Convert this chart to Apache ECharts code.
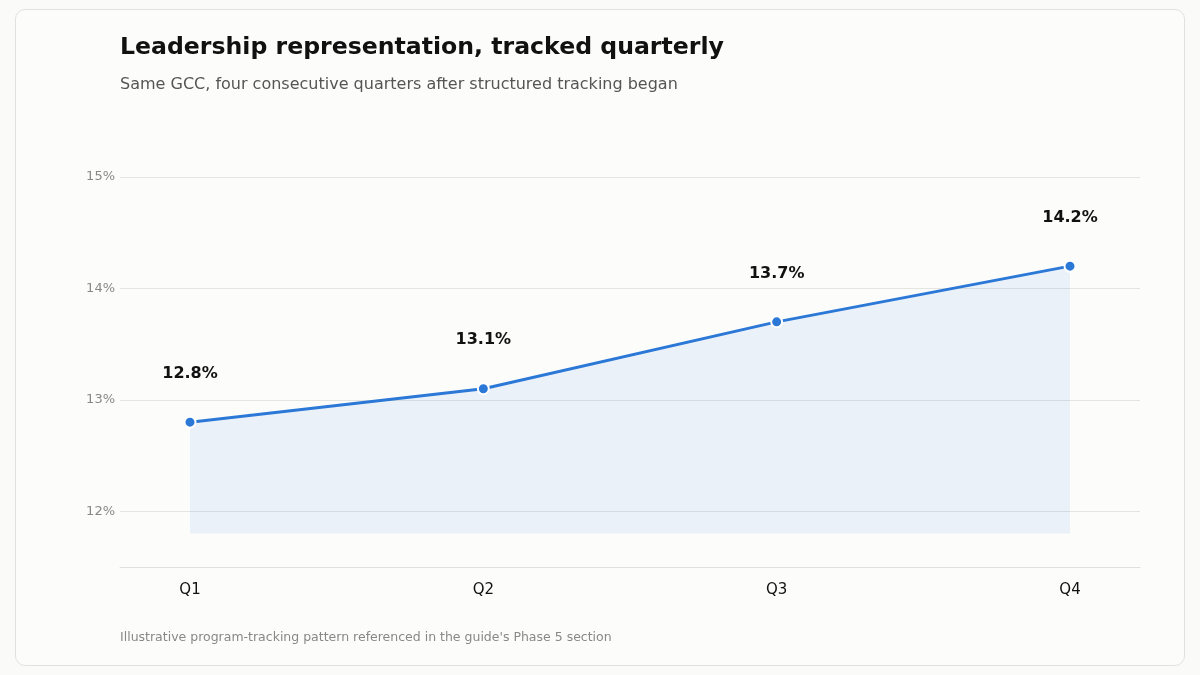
<!DOCTYPE html>
<html>
<head>
<meta charset="utf-8">
<script src="https://cdn.jsdelivr.net/npm/echarts@6/dist/echarts.min.js"></script>
<style>
  html, body { margin: 0; padding: 0; background: #fafaf8; }
  #card {
    position: absolute; left: 15px; top: 9px; width: 1168px; height: 655px;
    background: #fcfcfb; border: 1px solid #e2e2dd; border-radius: 10px;
  }
  #chart { position: absolute; left: 0; top: 0; width: 1200px; height: 675px; }
</style>
</head>
<body>
<div id="card"></div>
<div id="chart"></div>
<script>
// quarters and leadership share (%)
const quarters = ['Q1', 'Q2', 'Q3', 'Q4'];
const shareValues = [12.8, 13.1, 13.7, 14.2];
const areaBase = 11.8;

const FONT = '"DejaVu Sans", sans-serif';
const BLUE = '#2b78d7';

const mychart = echarts.init(document.getElementById('chart'));

const option = {
  animation: false,
  title: [
    {
      text: 'Leadership representation, tracked quarterly',
      left: 120, top: 35.5, padding: 0,
      textStyle: { fontFamily: FONT, fontSize: 23.6, fontWeight: 'bold', color: '#111' },
    },
    {
      text: 'Same GCC, four consecutive quarters after structured tracking began',
      left: 120, top: 76.5, padding: 0,
      textStyle: { fontFamily: FONT, fontSize: 16, fontWeight: 'normal', color: '#555' },
    },
    {
      text: "Illustrative program-tracking pattern referenced in the guide's Phase 5 section",
      left: 120, top: 631.5, padding: 0,
      textStyle: { fontFamily: FONT, fontSize: 12.5, fontWeight: 'normal', color: '#888' },
    },
  ],
  grid: [
    // gridlines + axis line span the full width
    { left: 120, right: 60, top: 177, bottom: 108 },
    // the line itself sits inset from both sides
    { left: 190, right: 130, top: 177, bottom: 108 },
  ],
  xAxis: [
    {
      gridIndex: 0,
      type: 'category',
      data: quarters,
      axisLine: { lineStyle: { color: '#e0e0dc' } },
      axisTick: { show: false },
      axisLabel: { show: false },
      splitLine: { show: false },
    },
    {
      gridIndex: 1,
      type: 'category',
      data: quarters,
      boundaryGap: false,
      axisLine: { show: false },
      axisTick: { show: false },
      axisLabel: { fontFamily: FONT, fontSize: 15, color: '#111', margin: 16 },
    },
  ],
  yAxis: [
    {
      gridIndex: 0,
      type: 'value',
      min: 11.5,
      max: 15,
      interval: 0.5,
      axisLine: { show: false },
      axisTick: { show: false },
      axisLabel: {
        fontFamily: FONT, fontSize: 13, color: '#888', margin: 5,
        formatter: (v) => (Number.isInteger(v) ? v + '%' : ''),
      },
      splitLine: { lineStyle: { color: ['rgba(0,0,0,0)', '#e4e4e0'] } },
    },
    {
      gridIndex: 1,
      type: 'value',
      min: 11.5,
      max: 15,
      show: false,
      splitLine: { show: false },
    },
  ],
  series: [{
    name: 'Leadership representation',
    type: 'line',
    xAxisIndex: 1,
    yAxisIndex: 1,
    data: shareValues,
    symbol: 'circle',
    symbolSize: 11,
    itemStyle: { color: BLUE, borderColor: '#fff', borderWidth: 2 },
    lineStyle: { color: BLUE, width: 3 },
    areaStyle: { color: 'rgba(35,115,215,0.11)', origin: areaBase },
    label: {
      show: true,
      position: 'top',
      distance: 34,
      fontFamily: FONT,
      fontSize: 16,
      fontWeight: 'bold',
      color: '#111',
      formatter: (p) => p.value.toFixed(1) + '%',
    },
  }],
};

mychart.setOption(option);
window.onresize = mychart.resize;
</script>
</body>
</html>
